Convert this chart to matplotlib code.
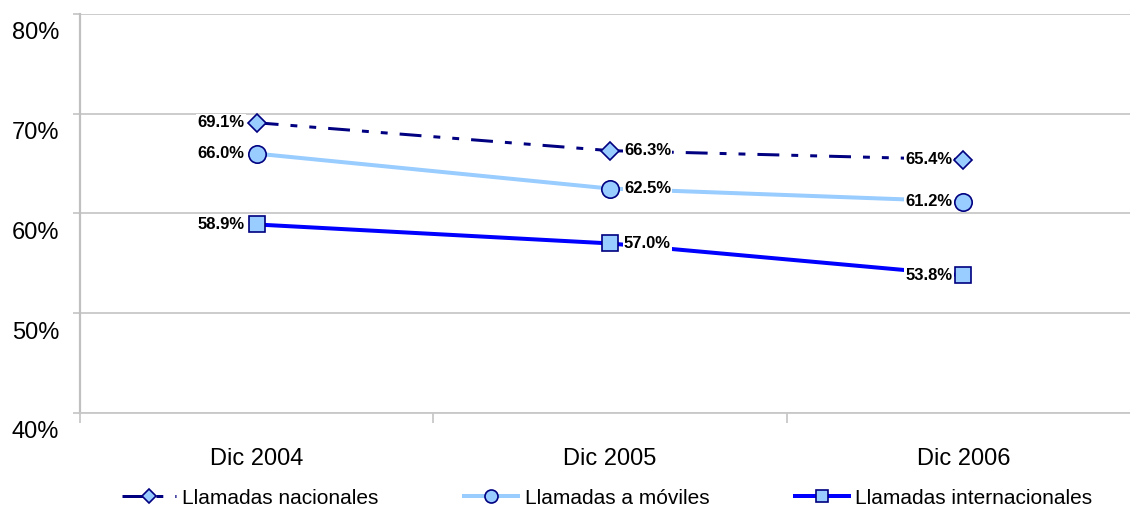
import matplotlib
matplotlib.use("Agg")
import matplotlib.pyplot as plt
from matplotlib.lines import Line2D
from matplotlib.transforms import ScaledTranslation

plt.rcParams['font.family'] = ['Liberation Sans', 'DejaVu Sans']

categories = ["Dic 2004", "Dic 2005", "Dic 2006"]
nacionales = [69.1, 66.3, 65.4]
moviles = [66.0, 62.5, 61.2]
internacionales = [58.9, 57.0, 53.8]
series_names = ["Llamadas nacionales", "Llamadas a móviles", "Llamadas internacionales"]
y_ticks = [40, 50, 60, 70, 80]

DPI = 100
fig = plt.figure(figsize=(11.3, 5.12), dpi=DPI)
W, H = 1130, 512
ax = fig.add_axes([80 / W, (H - 413) / H, (1140 - 80) / W, (413 - 14) / H])

x = list(range(len(categories)))
navy = "#000080"
light = "#99CCFF"
blue = "#0000FF"
grid_c = "#C8C8C8"

lw_nac = 3 * 0.72
dash_nac = (0, (7.3, 4.0, 2.3, 4.0, 2.3, 4.0))

styles = [
    dict(data=nacionales, color=navy, lw=lw_nac, ls=dash_nac, marker="D", ms=9.0),
    dict(data=moviles, color=light, lw=4 * 0.72, ls="-", marker="o", ms=12.5),
    dict(data=internacionales, color=blue, lw=4 * 0.72, ls="-", marker="s", ms=11.5),
]

for s in styles:
    ax.plot(x, s["data"], color=s["color"], lw=s["lw"], linestyle=s["ls"], zorder=2,
            solid_capstyle="butt", dash_capstyle="butt", clip_on=False)
    ax.plot(x, s["data"], linestyle="none", marker=s["marker"], ms=s["ms"],
            mfc=light, mec=navy, mew=1.2, zorder=5, clip_on=False)

# data labels
offsets = [(-12, "right"), (14, "left"), (-11, "right")]
for s in styles:
    for i, v in enumerate(s["data"]):
        dx, ha = offsets[i]
        ax.annotate(f"{v:.1f}%", (i, v), xytext=(dx * 0.72, 0), textcoords="offset points",
                    ha=ha, va="center", fontsize=12, fontweight="bold", color="black",
                    bbox=dict(boxstyle="square,pad=0.08", fc="white", ec="none"),
                    zorder=4)

ax.set_xlim(-0.5, 2.5)
ax.set_ylim(40, 80)

ax.set_yticks(y_ticks)
ax.set_yticklabels([f"{v}%" for v in y_ticks])
ax.tick_params(axis="y", length=5, width=1.3, color=grid_c, labelsize=17, pad=10)
off = ScaledTranslation(0, -17 / DPI, fig.dpi_scale_trans)
for lab in ax.get_yticklabels():
    lab.set_transform(lab.get_transform() + off)

ax.set_xticks(x)
ax.set_xticklabels(categories)
ax.tick_params(axis="x", which="major", length=0, labelsize=17, pad=25)
ax.set_xticks([-0.5, 0.5, 1.5, 2.5], minor=True)
ax.tick_params(axis="x", which="minor", length=7.2, width=1.3, color=grid_c)

ax.grid(axis="y", color=grid_c, lw=1.3)
ax.set_axisbelow(True)
for sp in ["top", "right"]:
    ax.spines[sp].set_visible(False)
ax.spines["left"].set_color("#C0C0C0")
ax.spines["left"].set_linewidth(1.6)
ax.spines["bottom"].set_color(grid_c)
ax.spines["bottom"].set_linewidth(1.3)

handles = [
    Line2D([], [], color=s["color"], lw=s["lw"], linestyle=s["ls"], marker=s["marker"],
           ms=s["ms"] * 0.75, mfc=light, mec=navy, mew=1.2)
    for s in styles
]
fig.legend(handles, series_names, loc="center", bbox_to_anchor=(607 / W, (H - 498) / H),
           ncol=3, frameon=False, fontsize=15, handlelength=2.6, handletextpad=0.3,
           columnspacing=4.1, borderpad=0)

fig.savefig("out.png", dpi=DPI)
